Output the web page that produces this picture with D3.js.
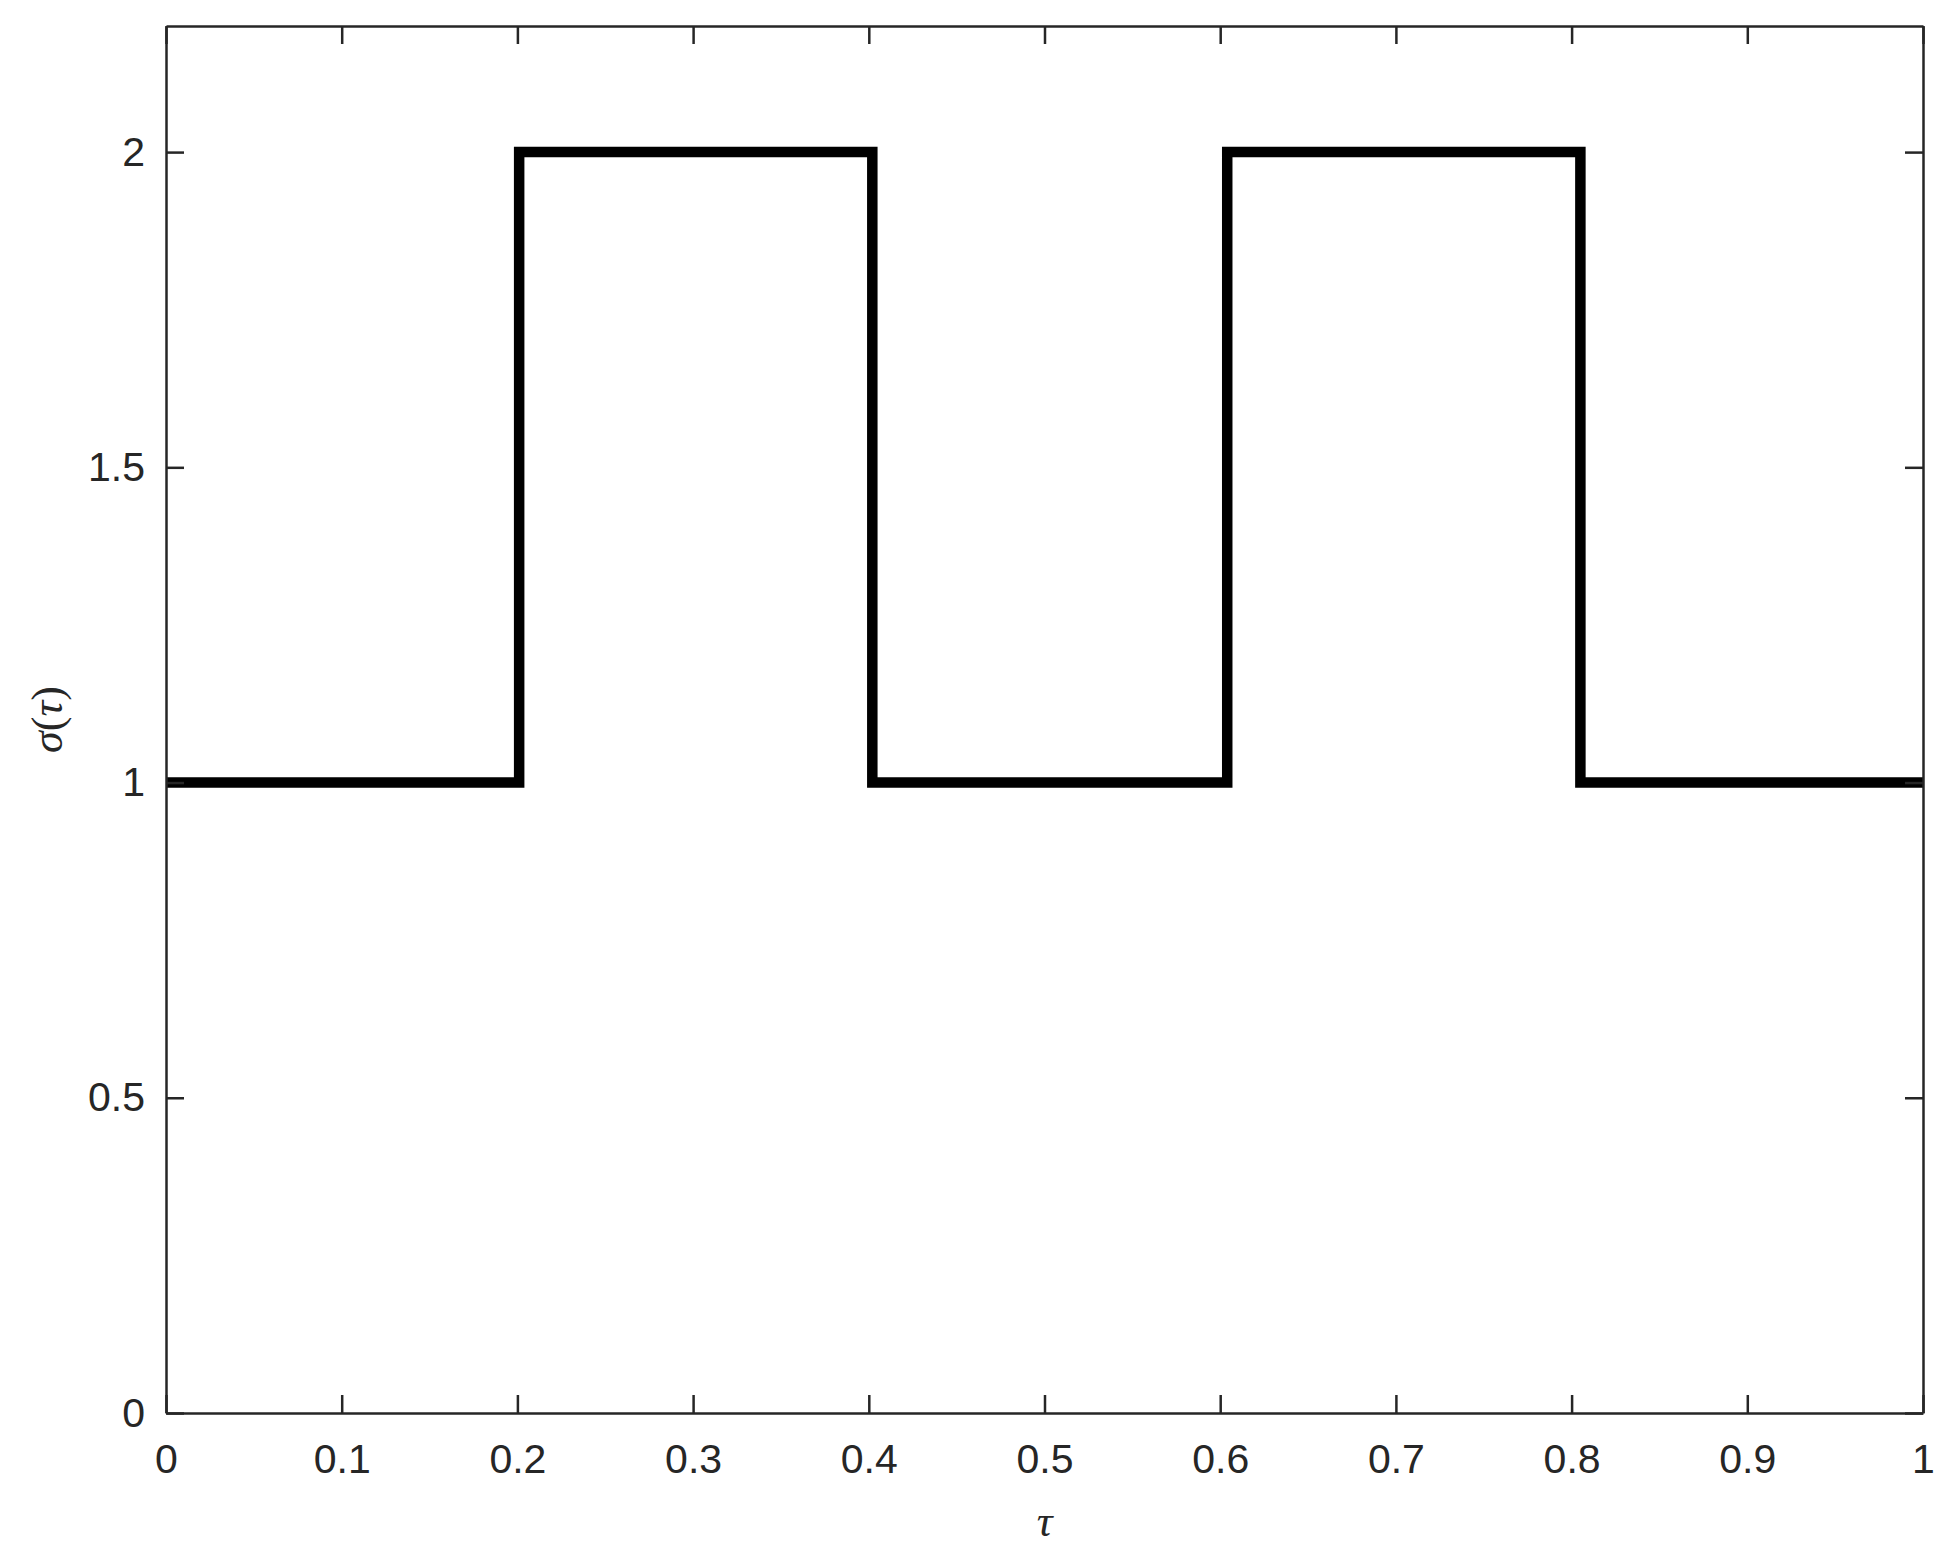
<!DOCTYPE html>
<html>
<head>
<meta charset="utf-8">
<script src="https://cdn.jsdelivr.net/npm/d3@7"></script>
<style>
  html, body { margin: 0; padding: 0; background: #fff; }
  svg { display: block; }
</style>
</head>
<body>
<svg id="chart" width="1947" height="1557"></svg>
<script>
// Step data: breakpoints of tau and sigma value on each interval
const tauEdges = [0, 0.201, 0.402, 0.604, 0.805, 1];
const sigmaValues = [1, 2, 1, 2, 1];
const xTicks = [0, 0.1, 0.2, 0.3, 0.4, 0.5, 0.6, 0.7, 0.8, 0.9, 1];
const yTicks = [0, 0.5, 1, 1.5, 2];
const xDomain = [0, 1];
const yDomain = [0, 2.2];

(function () {
const svg = d3.select("#chart");
const pLeft = 166, pRight = 1923, pTop = 26, pBottom = 1413;
const axisColor = "#262626";

const x = d3.scaleLinear().domain(xDomain).range([pLeft, pRight]);
const y = d3.scaleLinear().domain(yDomain).range([pBottom, pTop]);

const fmt = d => String(d);

// Step line points
const pts = [];
sigmaValues.forEach((v, i) => {
  pts.push([tauEdges[i], v]);
  pts.push([tauEdges[i + 1], v]);
});

svg.append("path")
  .datum(pts)
  .attr("fill", "none")
  .attr("stroke", "#000")
  .attr("stroke-width", 10.5)
  .attr("stroke-linejoin", "miter")
  .attr("d", d3.line().x(d => x(d[0])).y(d => y(d[1])));

const tickLen = 18;
const font = "'Liberation Sans', Arial, sans-serif";

const gB = svg.append("g").attr("transform", `translate(0,${pBottom})`)
  .call(d3.axisBottom(x).tickValues(xTicks).tickSizeInner(-tickLen).tickSizeOuter(0).tickPadding(31).tickFormat(fmt));
const gT = svg.append("g").attr("transform", `translate(0,${pTop})`)
  .call(d3.axisTop(x).tickValues(xTicks).tickSizeInner(-tickLen).tickSizeOuter(0).tickFormat(""));
const gL = svg.append("g").attr("transform", `translate(${pLeft},0)`)
  .call(d3.axisLeft(y).tickValues(yTicks).tickSizeInner(-tickLen).tickSizeOuter(0).tickPadding(21).tickFormat(fmt));
const gR = svg.append("g").attr("transform", `translate(${pRight},0)`)
  .call(d3.axisRight(y).tickValues(yTicks).tickSizeInner(-tickLen).tickSizeOuter(0).tickFormat(""));

[gB, gT, gL, gR].forEach(g => {
  g.select(".domain").attr("stroke", axisColor).attr("stroke-width", 2.5);
  g.selectAll(".tick line").attr("stroke", axisColor).attr("stroke-width", 2.5);
  g.selectAll(".tick text")
    .attr("fill", axisColor)
    .style("font-family", font)
    .style("font-size", "41px");
});
gB.selectAll(".tick text").attr("dy", "0.71em");

svg.append("text")
  .attr("x", (pLeft + pRight) / 2)
  .attr("y", 1536)
  .attr("text-anchor", "middle")
  .style("font-family", "'Liberation Serif', 'DejaVu Serif', serif")
  .style("font-style", "italic")
  .style("font-size", "44px")
  .attr("fill", axisColor)
  .text("τ");

svg.append("text")
  .attr("transform", `translate(62,${(pTop + pBottom) / 2}) rotate(-90)`)
  .attr("text-anchor", "middle")
  .style("font-family", "'Liberation Serif', 'DejaVu Serif', serif")
  .style("font-size", "44px")
  .attr("fill", axisColor)
  .html('<tspan font-style="italic">σ</tspan>(<tspan font-style="italic">τ</tspan>)');
})();
</script>
</body>
</html>
